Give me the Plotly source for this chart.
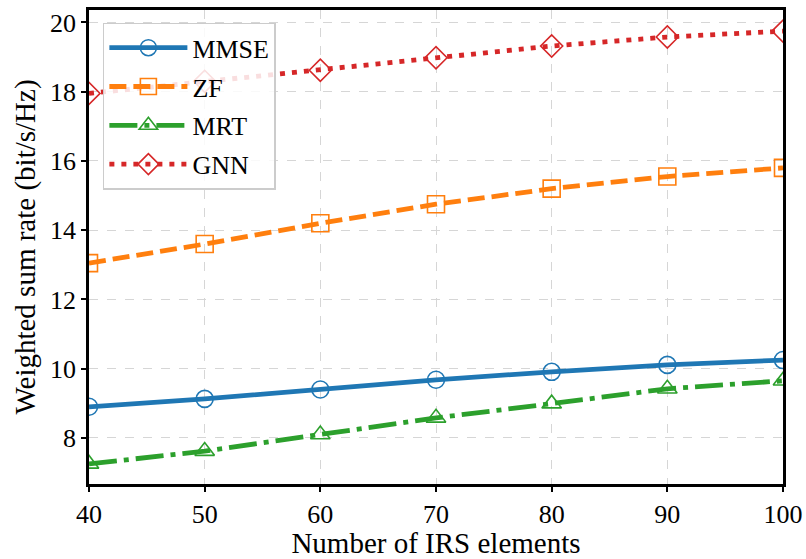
import plotly.graph_objects as go

# Number of IRS elements
irs_elements = [40, 50, 60, 70, 80, 90, 100]

# Weighted sum rate (bit/s/Hz) for each scheme
mmse = [8.90, 9.13, 9.40, 9.68, 9.91, 10.11, 10.25]
zf = [13.05, 13.60, 14.20, 14.75, 15.20, 15.55, 15.80]
mrt = [7.25, 7.62, 8.10, 8.58, 8.99, 9.42, 9.65]
gnn = [17.95, 18.30, 18.62, 18.98, 19.32, 19.58, 19.75]

y_ticks = [8, 10, 12, 14, 16, 18, 20]
x_ticks = [40, 50, 60, 70, 80, 90, 100]

FONT = "Liberation Serif, Times New Roman, serif"

series = [
    ("MMSE", mmse, "#1f77b4", "solid", "circle-open"),
    ("ZF", zf, "#ff7f0e", "17px,7px", "square-open"),
    ("MRT", mrt, "#2ca02c", "28px,7px,5px,7px", "triangle-up-open"),
    ("GNN", gnn, "#d62728", "5px,7px", "diamond-open"),
]

fig = go.Figure()
for i, (name, vals, color, dash, symbol) in enumerate(series):
    fig.add_trace(go.Scatter(
        x=irs_elements, y=vals, name=name, mode="lines+markers",
        line=dict(color=color, width=4.8, dash=dash),
        marker=dict(symbol=symbol, size=17, color=color,
                    line=dict(color=color, width=1.6)),
        legendgroup=f"g{i}",
    ))

axis_common = dict(
    showline=True, linecolor="black", linewidth=2.5, mirror=True,
    ticks="outside", ticklen=5, tickwidth=1.5, tickcolor="black",
    showgrid=True, gridcolor="#d6d6d6", griddash="dash", gridwidth=1,
    zeroline=False, automargin=False,
    tickfont=dict(family=FONT, size=26, color="black"),
    title_font=dict(family=FONT, size=29, color="black"),
)

fig.update_xaxes(range=[40, 100], tickvals=x_ticks,
                 title_text="Number of IRS elements", title_standoff=6,
                 **axis_common)
fig.update_yaxes(range=[6.67, 20.36], tickvals=y_ticks,
                 title_text="Weighted sum rate (bit/s/Hz)", title_standoff=6,
                 **axis_common)

fig.update_layout(
    width=806, height=559,
    margin=dict(l=89, r=23, t=10, b=75),
    paper_bgcolor="white", plot_bgcolor="white",
    font=dict(family=FONT, color="black"),
    legend=dict(
        x=0.02, y=0.973, xanchor="left", yanchor="top",
        bgcolor="rgba(255,255,255,0.85)", bordercolor="#cccccc", borderwidth=1.5,
        font=dict(family=FONT, size=26, color="black"),
        tracegroupgap=2, itemwidth=78,
    ),
)

fig.write_html("out.html")
